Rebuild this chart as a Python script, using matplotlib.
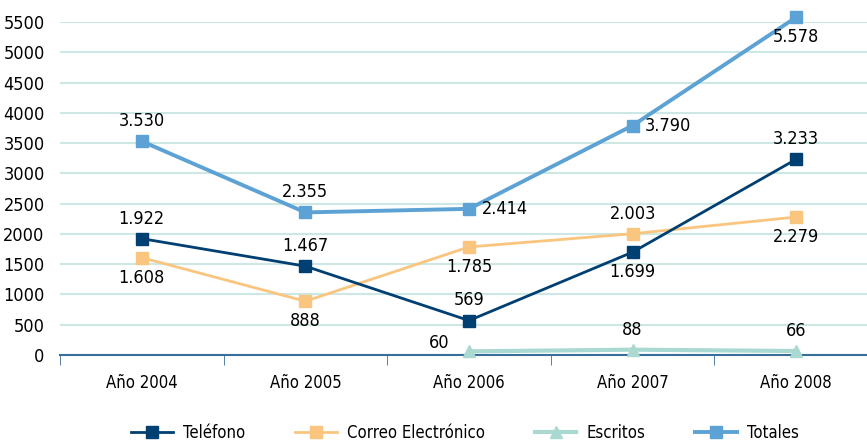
import matplotlib.pyplot as plt

plt.rcParams['font.family'] = ['DejaVu Sans']
plt.rcParams['font.stretch'] = 'condensed'

years = ['Año 2004', 'Año 2005', 'Año 2006', 'Año 2007', 'Año 2008']
telefono = [1922, 1467, 569, 1699, 3233]
correo = [1608, 888, 1785, 2003, 2279]
escritos = [None, None, 60, 88, 66]
totales = [3530, 2355, 2414, 3790, 5578]

# where each value label goes relative to its point
tel_pos = ['above', 'above', 'above', 'below', 'above']
cor_pos = ['below', 'below', 'below', 'above', 'below']
esc_pos = [None, None, 'left', 'above', 'above']
tot_pos = ['above', 'above', 'right', 'right', 'below']

c_tel = '#003f72'
c_cor = '#f9c57f'
c_esc = '#a9d9d1'
c_tot = '#5da2d4'

fig = plt.figure(figsize=(8.67, 4.42), dpi=100)
ax = fig.add_axes([60/867, 1-355/442, (878-60)/867, (355-22)/442])

x = list(range(len(years)))
ax.plot(x, telefono, color=c_tel, lw=2, marker='s', ms=9, label='Teléfono', zorder=4, clip_on=False)
ax.plot(x, correo, color=c_cor, lw=2, marker='s', ms=9, label='Correo Electrónico', zorder=3, clip_on=False)
ex = [i for i, v in enumerate(escritos) if v is not None]
ey = [v for v in escritos if v is not None]
ax.plot(ex, ey, color=c_esc, lw=3, marker='^', ms=9, label='Escritos', zorder=3, clip_on=False)
ax.plot(x, totales, color=c_tot, lw=2.8, marker='s', ms=9, label='Totales', zorder=5, clip_on=False)

def fmt(v):
    return f'{v:,}'.replace(',', '.')

def put_labels(xs, vals, pos):
    for xi, v, p in zip(xs, vals, pos):
        if v is None or p is None:
            continue
        kw = dict(textcoords='offset points', fontsize=13, zorder=6, annotation_clip=False)
        if p == 'above':
            ax.annotate(fmt(v), (xi, v), xytext=(0, 8), ha='center', va='bottom', **kw)
        elif p == 'below':
            ax.annotate(fmt(v), (xi, v), xytext=(0, -8), ha='center', va='top', **kw)
        elif p == 'right':
            ax.annotate(fmt(v), (xi, v), xytext=(9, 0), ha='left', va='center', **kw)
        elif p == 'left':
            ax.annotate(fmt(v), (xi, v), xytext=(-14, 6), ha='right', va='center', **kw)

put_labels(x, telefono, tel_pos)
put_labels(x, correo, cor_pos)
put_labels(x, escritos, esc_pos)
put_labels(x, totales, tot_pos)

ax.set_xlim(-0.5, 4.5)
ax.set_ylim(0, 5500)
ax.set_yticks(range(0, 5501, 500))
ax.set_xticks(x)
ax.set_xticklabels(years)
ax.set_xticks([i + 0.5 for i in range(-1, 5)], minor=True)
ax.tick_params(axis='x', which='major', length=0, pad=14, labelsize=12)
ax.tick_params(axis='x', which='minor', length=7, color='#3a6e9a', direction='out')
ax.tick_params(axis='y', length=0, pad=11, labelsize=13)
ax.grid(axis='y', color='#cde8e4', lw=1.5)
ax.set_axisbelow(True)
for s in ['top', 'right', 'left']:
    ax.spines[s].set_visible(False)
ax.spines['bottom'].set_color('#3a6e9a')
ax.spines['bottom'].set_linewidth(1.5)

fig.legend(loc='center', bbox_to_anchor=(465/867, 1-433/442), ncol=4, frameon=False,
           fontsize=12, handlelength=2.5, columnspacing=3.0, handletextpad=0.6)

fig.savefig('out.png', dpi=100)
